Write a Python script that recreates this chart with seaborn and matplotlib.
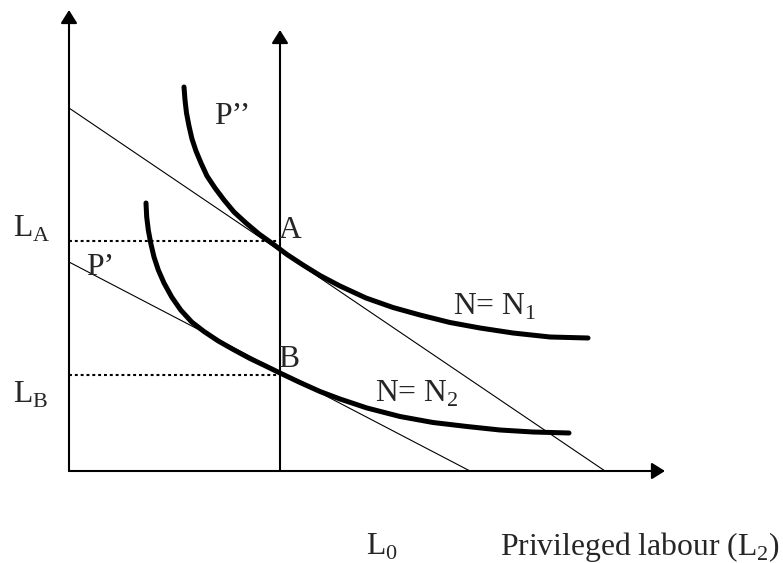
import matplotlib.pyplot as plt
import pandas as pd
import seaborn as sns

# Diagram coordinates: origin where the axes meet, one unit per pixel
# Upper indifference curve N = N1
n1_x = [115, 116, 117.5, 120, 123, 127, 132, 138, 146, 155, 165, 177, 190,
        204, 218, 234, 251, 271, 297, 324, 351, 381, 411, 444, 481, 519]
n1_y = [384, 371, 358, 345, 332, 320, 308, 295, 283, 271, 259, 248, 237,
        227, 216.5, 206, 195.5, 185, 173, 163.5, 156, 148.5, 143, 138, 134, 133]

# Lower indifference curve N = N2
n2_x = [77, 77.7, 79.3, 81.7, 85, 89.3, 95, 102.7, 111.7, 122.7, 135, 149.3, 164.3,
        181, 197.7, 211, 231, 251, 271, 298, 331, 364, 398, 431, 464, 500]
n2_y = [268, 254, 241, 228, 214, 201, 188, 174, 161, 149, 139.5, 130, 121.5,
        112.5, 104.5, 98, 88.5, 79.5, 72, 63, 54.5, 48.5, 44.5, 41, 39, 38]

# Budget lines P'' (upper) and P' (lower): intercepts on both axes
p2_x = [0, 536]
p2_y = [363, 0]
p1_x = [0, 401]
p1_y = [209, 0]

# L0 position and the two labour levels
l0 = 211
l_a = 230
l_b = 96


def main():
  sns.set_style("white")
  plt.rcParams["font.family"] = ["Liberation Serif", "DejaVu Serif"]
  plt.rcParams["mathtext.fontset"] = "custom"
  plt.rcParams["mathtext.rm"] = "Liberation Serif"

  fig = plt.figure(figsize=(7.83, 5.63), dpi=100)
  ax = fig.add_axes([0, 0, 1, 1])
  ax.set_xlim(-69, 714)
  ax.set_ylim(-92, 471)
  ax.axis("off")

  curves = pd.concat([
    pd.DataFrame({"x": n1_x, "y": n1_y, "curve": "N1"}),
    pd.DataFrame({"x": n2_x, "y": n2_y, "curve": "N2"}),
  ])
  lines = pd.concat([
    pd.DataFrame({"x": p2_x, "y": p2_y, "line": "P2"}),
    pd.DataFrame({"x": p1_x, "y": p1_y, "line": "P1"}),
  ])

  # Thin budget lines
  sns.lineplot(data=lines, x="x", y="y", units="line", estimator=None, sort=False,
               color="black", linewidth=0.8, ax=ax)
  # Thick curves
  sns.lineplot(data=curves, x="x", y="y", units="curve", estimator=None, sort=False,
               color="black", linewidth=3.6, solid_capstyle="round",
               solid_joinstyle="round", ax=ax)

  # Dotted guides for LA and LB
  for level in (l_a, l_b):
    ax.plot([0, l0], [level, level], color="black", linewidth=1.5,
            linestyle=(0, (1.4, 1.4)))

  # Axes with arrows
  arrow = dict(arrowstyle="-|>,head_length=0.4,head_width=0.25", color="black",
               lw=1.5, shrinkA=0, shrinkB=0, mutation_scale=20)
  ax.annotate("", xy=(0, 461), xytext=(0, 0), arrowprops=arrow)
  ax.annotate("", xy=(l0, 441), xytext=(l0, 0), arrowprops=arrow)
  ax.annotate("", xy=(596, 0), xytext=(0, 0), arrowprops=arrow)

  fs = 22.8
  ax.text(-56, 234, r"L$_\mathregular{A}$", fontsize=fs, ha="left", va="baseline")
  ax.text(-56, 68, r"L$_\mathregular{B}$", fontsize=fs, ha="left", va="baseline")
  ax.text(145, 347, "P\u2019\u2019", fontsize=fs, ha="left", va="baseline")
  ax.text(17, 196, "P\u2019", fontsize=fs, ha="left", va="baseline")
  ax.text(210, 233, "A", fontsize=fs, ha="left", va="baseline")
  ax.text(209, 104, "B", fontsize=fs, ha="left", va="baseline")
  ax.text(384, 156, r"N= N$_\mathregular{1}$", fontsize=fs, ha="left", va="baseline")
  ax.text(306, 69, r"N= N$_\mathregular{2}$", fontsize=fs, ha="left", va="baseline")
  ax.text(297, -84, r"L$_\mathregular{0}$", fontsize=fs, ha="left", va="baseline")
  ax.text(431, -84, r"Privileged labour (L$_\mathregular{2}$)", fontsize=fs,
          ha="left", va="baseline")

  fig.savefig("out.png", dpi=100)
  plt.close(fig)


if __name__ == "__main__":
  main()
